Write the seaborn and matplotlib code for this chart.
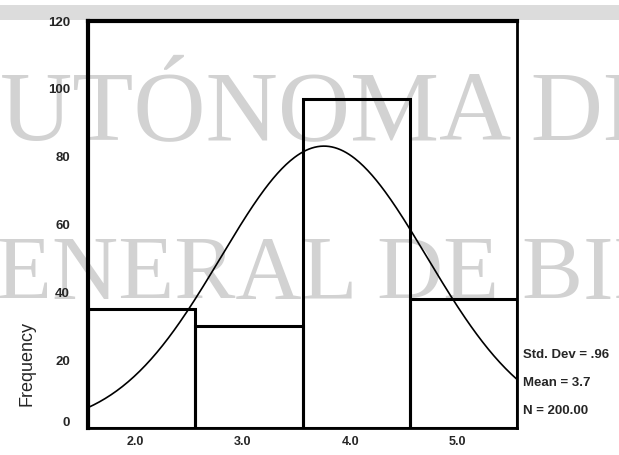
import numpy as np
import pandas as pd
import matplotlib
matplotlib.use("Agg")
import matplotlib.pyplot as plt
import matplotlib.transforms as mtransforms
from matplotlib.patches import Rectangle
import seaborn as sns

# ---- data ----
bin_centers = [2.0, 3.0, 4.0, 5.0]
bin_edges = [1.5, 2.5, 3.5, 4.5, 5.5]
counts = [35, 30, 97, 38]
x_tick_labels = ["2.0", "3.0", "4.0", "5.0"]
y_ticks = [0, 20, 40, 60, 80, 100, 120]
std_dev = 0.96
mean = 3.7
n_total = 200.00
stats_lines = ["Std. Dev = .96", "Mean = 3.7", "N = 200.00"]
watermark_lines = ["UTÓNOMA DE", "ENERAL DE BIE"]

sns.set_style("white")
plt.rcParams["font.family"] = ["Liberation Sans", "DejaVu Sans"]

fig = plt.figure(figsize=(6.19, 4.55), dpi=100)
fig.patch.set_facecolor("white")

# grey band at top
fig.patches.append(Rectangle((0, 1 - 20 / 455), 1, 15 / 455, transform=fig.transFigure,
                             facecolor="#dcdcdc", edgecolor="none", zorder=-3))

# watermark text behind axes
fig.text(0.0, 1 - 140 / 455, watermark_lines[0], fontsize=72, family="Liberation Serif",
         color="#d2d2d2", ha="left", va="baseline", zorder=-2)
fig.text(-0.006, 1 - 299 / 455, watermark_lines[1], fontsize=66, family="Liberation Serif",
         color="#d2d2d2", ha="left", va="baseline", zorder=-2)

ax = fig.add_axes([88 / 619, 1 - 428 / 455, (517 - 88) / 619, (428 - 21) / 455])
ax.patch.set_visible(False)

df = pd.DataFrame({"value": bin_centers, "count": counts})
sns.histplot(data=df, x="value", weights="count", bins=bin_edges, fill=False,
             element="bars", color="black", linewidth=2.2, ax=ax)
for p in ax.patches:
    p.set_edgecolor("black")

xs = np.linspace(bin_edges[0], bin_edges[-1], 300)
binw = bin_edges[1] - bin_edges[0]
ys = n_total * binw / (std_dev * np.sqrt(2 * np.pi)) * np.exp(-0.5 * ((xs - mean) / std_dev) ** 2)
sns.lineplot(x=xs, y=ys, color="black", linewidth=1.2, ax=ax)

ax.set_xlim(bin_edges[0], bin_edges[-1])
ax.set_ylim(0, 120)
ax.set_xticks(bin_centers)
ax.set_xticklabels(x_tick_labels, fontsize=9, fontweight="bold")
ax.set_yticks(y_ticks)
ax.set_yticklabels([str(v) for v in y_ticks], fontsize=9.5, fontweight="bold")
ax.set_xlabel("")
ax.set_ylabel("")

for side, lw in [("top", 3.0), ("left", 3.0), ("right", 2.0), ("bottom", 2.0)]:
    ax.spines[side].set_visible(True)
    ax.spines[side].set_color("black")
    ax.spines[side].set_linewidth(lw)

ax.tick_params(axis="both", direction="out", length=3, width=3, color="black")
ax.tick_params(axis="y", pad=10)
ax.tick_params(axis="x", pad=3)

off = mtransforms.ScaledTranslation(-6 / 100, 0, fig.dpi_scale_trans)
for lab in ax.get_xticklabels():
    lab.set_transform(lab.get_transform() + off)
ylabs = ax.get_yticklabels()
ylabs[0].set_transform(ylabs[0].get_transform()
                       + mtransforms.ScaledTranslation(0, 7 / 100, fig.dpi_scale_trans))

fig.text(27 / 619, 1 - 364 / 455, "Frequency", rotation=90, fontsize=13,
         ha="center", va="center")

for i, s in enumerate(stats_lines):
    fig.text(523 / 619, 1 - (355 + 28 * i) / 455, s, fontsize=9.5, fontweight="bold",
             ha="left", va="center")

fig.savefig("out.png", dpi=100)
